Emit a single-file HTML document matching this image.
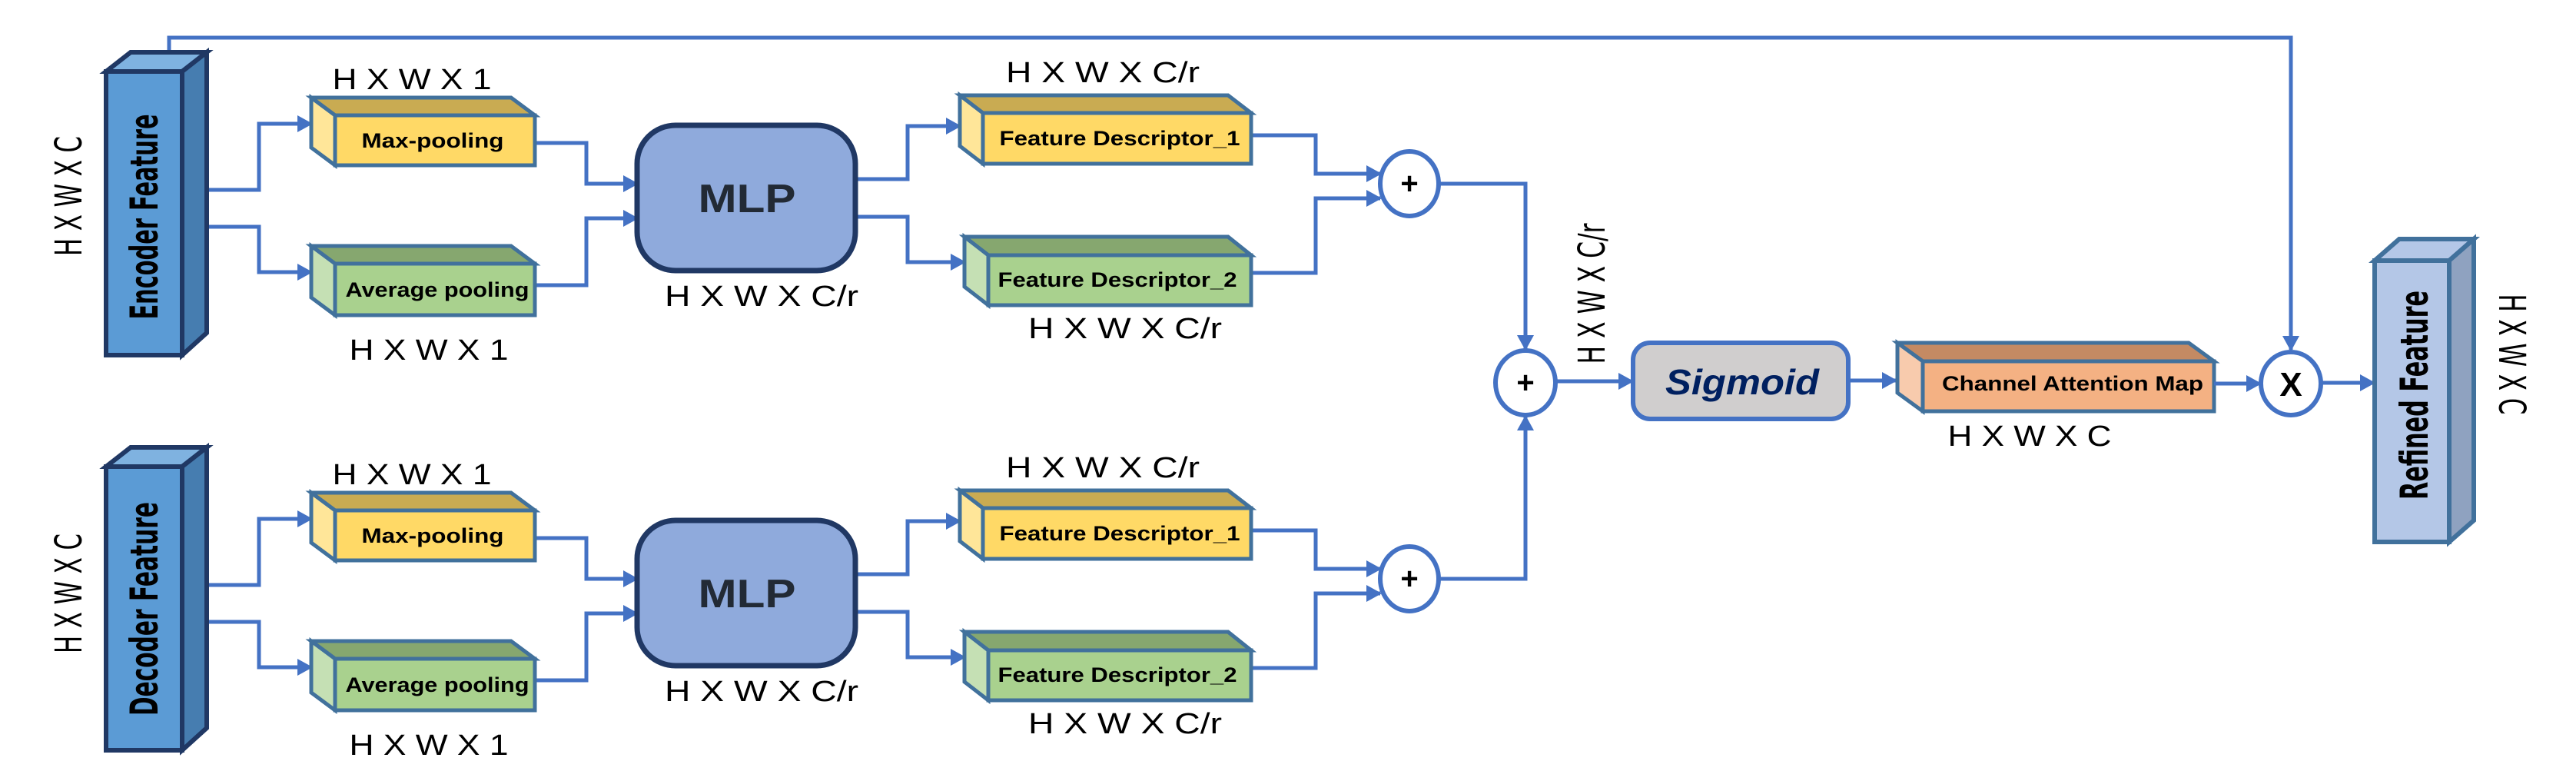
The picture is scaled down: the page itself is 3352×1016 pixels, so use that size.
<!DOCTYPE html>
<html><head><meta charset="utf-8"><style>
html,body{margin:0;padding:0;background:#fff}
svg{display:block}
.lbl{font-family:"Liberation Sans Narrow","Liberation Sans",sans-serif;font-size:38px;fill:#000}
.vl{font-family:"DejaVu Sans","Liberation Sans",sans-serif;font-size:48px;fill:#000}
.bx{font-family:"Liberation Sans Narrow","Liberation Sans",sans-serif;font-weight:bold;font-size:27px;fill:#000}
.big{font-family:"DejaVu Sans","Liberation Sans",sans-serif;font-weight:bold;font-size:50px;fill:#000}
.c{fill:none;stroke:#4472c4;stroke-width:5}
</style></head><body>
<svg width="3352" height="1016" viewBox="0 0 3352 1016" xmlns="http://www.w3.org/2000/svg">
<defs>
<marker id="a" markerUnits="userSpaceOnUse" markerWidth="20" markerHeight="22" refX="18" refY="11" orient="auto">
<path d="M0,0 L20,11 L0,22 Z" fill="#4472c4"/>
</marker>
</defs>

<path class="c" d="M220 68 V49 H2981 V455" marker-end="url(#a)"/>

<g id="half">
<path class="c" d="M269 247 H337 V161 H405" marker-end="url(#a)"/>
<path class="c" d="M269 295 H337 V354 H405" marker-end="url(#a)"/>
<path class="c" d="M696 186 H763 V239 H829" marker-end="url(#a)"/>
<path class="c" d="M696 371 H763 V284 H829" marker-end="url(#a)"/>
<path class="c" d="M1113 233 H1181 V164 H1249" marker-end="url(#a)"/>
<path class="c" d="M1113 282 H1181 V341 H1255" marker-end="url(#a)"/>
<path class="c" d="M1628 176 H1712 V226 H1796" marker-end="url(#a)"/>
<path class="c" d="M1628 355 H1712 V258 H1796" marker-end="url(#a)"/>

<g stroke="#41719c" stroke-width="5" stroke-linejoin="miter">
<polygon points="405,127 665,127 696,150 436,150" fill="#c9ab52"/>
<polygon points="405,127 436,150 436,215 405,192" fill="#ffe699"/>
<rect x="436" y="150" width="260" height="65" fill="#ffd966"/>
<polygon points="405,320 665,320 696,343 436,343" fill="#86a76f"/>
<polygon points="405,320 436,343 436,410 405,387" fill="#c5e0b4"/>
<rect x="436" y="343" width="260" height="67" fill="#a9d18e"/>
<polygon points="1249,124 1598,124 1628,147 1279,147" fill="#c9ab52"/>
<polygon points="1249,124 1279,147 1279,213 1249,190" fill="#ffe699"/>
<rect x="1279" y="147" width="349" height="66" fill="#ffd966"/>
<polygon points="1255,308 1598,308 1628,332 1286,332" fill="#86a76f"/>
<polygon points="1255,308 1286,332 1286,397 1255,373" fill="#c5e0b4"/>
<rect x="1286" y="332" width="342" height="65" fill="#a9d18e"/>
</g>
<text class="bx" x="563" y="192" text-anchor="middle" textLength="185" lengthAdjust="spacingAndGlyphs">Max-pooling</text>
<text class="bx" x="569" y="386" text-anchor="middle" textLength="239" lengthAdjust="spacingAndGlyphs">Average pooling</text>
<text class="bx" x="1457" y="189" text-anchor="middle" textLength="313" lengthAdjust="spacingAndGlyphs">Feature Descriptor_1</text>
<text class="bx" x="1454" y="373" text-anchor="middle" textLength="311" lengthAdjust="spacingAndGlyphs">Feature Descriptor_2</text>

<rect x="829" y="163" width="284" height="189" rx="50" fill="#8faadc" stroke="#203864" stroke-width="7"/>
<text x="972" y="276" text-anchor="middle" font-family="Liberation Sans Narrow, Liberation Sans, sans-serif" font-weight="bold" font-size="52" fill="#222a35" textLength="127" lengthAdjust="spacingAndGlyphs">MLP</text>

<text class="lbl" x="536" y="116" text-anchor="middle" textLength="207" lengthAdjust="spacingAndGlyphs">H X W X 1</text>
<text class="lbl" x="558" y="468" text-anchor="middle" textLength="207" lengthAdjust="spacingAndGlyphs">H X W X 1</text>
<text class="lbl" x="991" y="398" text-anchor="middle" textLength="252" lengthAdjust="spacingAndGlyphs">H X W X C/r</text>
<text class="lbl" x="1435" y="107" text-anchor="middle" textLength="252" lengthAdjust="spacingAndGlyphs">H X W X C/r</text>
<text class="lbl" x="1464" y="440" text-anchor="middle" textLength="252" lengthAdjust="spacingAndGlyphs">H X W X C/r</text>

<ellipse cx="1834" cy="239" rx="38" ry="42" fill="#fff" stroke="#4472c4" stroke-width="6"/>
<text x="1834" y="252" text-anchor="middle" font-family="Liberation Sans, sans-serif" font-weight="bold" font-size="40">+</text>
</g>
<use href="#half" transform="translate(0,514)"/>

<g stroke="#203864" stroke-width="6">
<polygon points="138,93 237,93 269,68 170,68" fill="#7fb2e0"/>
<polygon points="237,93 269,68 269,433 237,462" fill="#467db0"/>
<rect x="138" y="93" width="99" height="369" fill="#5b9bd5"/>
<polygon points="138,607 237,607 269,582 170,582" fill="#7fb2e0"/>
<polygon points="237,607 269,582 269,947 237,976" fill="#467db0"/>
<rect x="138" y="607" width="99" height="369" fill="#5b9bd5"/>
</g>
<text class="big" transform="translate(205,282) rotate(-90)" text-anchor="middle" textLength="267" lengthAdjust="spacingAndGlyphs">Encoder Feature</text>
<text class="big" transform="translate(205,792) rotate(-90)" text-anchor="middle" textLength="278" lengthAdjust="spacingAndGlyphs">Decoder  Feature</text>
<text class="vl" transform="translate(106,255) rotate(-90)" text-anchor="middle" textLength="156" lengthAdjust="spacingAndGlyphs">H X W X C</text>
<text class="vl" transform="translate(106,772) rotate(-90)" text-anchor="middle" textLength="156" lengthAdjust="spacingAndGlyphs">H X W X C</text>

<path class="c" d="M1874 239 H1985 V454" marker-end="url(#a)"/>
<path class="c" d="M1874 753 H1985 V542" marker-end="url(#a)"/>
<ellipse cx="1985" cy="498" rx="39" ry="42" fill="#fff" stroke="#4472c4" stroke-width="6"/>
<text x="1985" y="511" text-anchor="middle" font-family="Liberation Sans, sans-serif" font-weight="bold" font-size="40">+</text>
<text class="vl" transform="translate(2088,382) rotate(-90)" text-anchor="middle" textLength="183" lengthAdjust="spacingAndGlyphs">H X W X C/r</text>

<path class="c" d="M2024 496 H2124" marker-end="url(#a)"/>
<rect x="2125" y="446" width="280" height="99" rx="22" fill="#d0cece" stroke="#4472c4" stroke-width="6"/>
<text x="2267" y="513" text-anchor="middle" font-family="Liberation Sans Narrow, Liberation Sans, sans-serif" font-weight="bold" font-style="italic" font-size="46" fill="#002060" textLength="200" lengthAdjust="spacingAndGlyphs">Sigmoid</text>
<path class="c" d="M2405 495 H2467" marker-end="url(#a)"/>

<g stroke="#41719c" stroke-width="5">
<polygon points="2469,446 2848,446 2881,470 2502,470" fill="#c48a63"/>
<polygon points="2469,446 2502,470 2502,535 2469,511" fill="#f8cbad"/>
<rect x="2502" y="470" width="379" height="65" fill="#f4b183"/>
</g>
<text class="bx" x="2697" y="508" text-anchor="middle" font-size="25" textLength="340" lengthAdjust="spacingAndGlyphs">Channel Attention Map</text>
<text class="lbl" x="2641" y="580" text-anchor="middle" textLength="213" lengthAdjust="spacingAndGlyphs">H X W X C</text>

<path class="c" d="M2881 499 H2941" marker-end="url(#a)"/>
<ellipse cx="2981" cy="499" rx="39" ry="41" fill="#fff" stroke="#4472c4" stroke-width="6"/>
<text x="2981" y="515" text-anchor="middle" font-family="Liberation Sans Narrow, Liberation Sans, sans-serif" font-weight="bold" font-size="44">X</text>
<path class="c" d="M3020 498 H3089" marker-end="url(#a)"/>

<g stroke="#41719c" stroke-width="6">
<polygon points="3090,339 3187,339 3219,311 3122,311" fill="#b4c7e7"/>
<polygon points="3187,339 3219,311 3219,677 3187,705" fill="#8fa2c0"/>
<rect x="3090" y="339" width="97" height="366" fill="#b4c7e7"/>
</g>
<text class="big" transform="translate(3159,514) rotate(-90)" text-anchor="middle" textLength="272" lengthAdjust="spacingAndGlyphs">Refined  Feature</text>
<text class="vl" transform="translate(3252,461) rotate(90)" text-anchor="middle" textLength="157" lengthAdjust="spacingAndGlyphs">H X W X C</text>
</svg>
</body></html>
